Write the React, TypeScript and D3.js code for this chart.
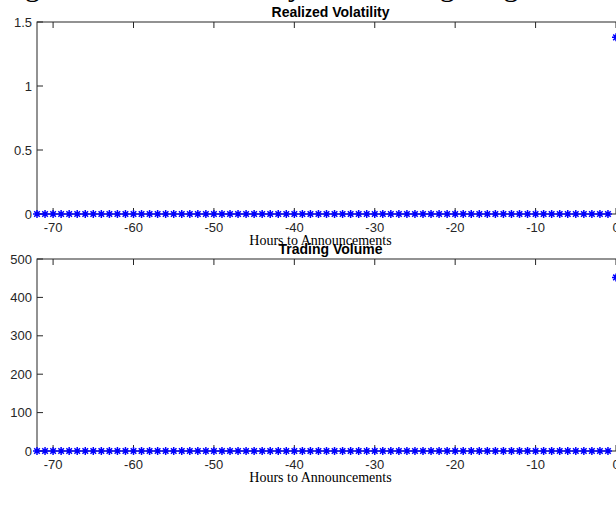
import React, { useEffect, useRef } from 'react';
import * as d3 from 'd3';

// hours relative to the announcement
const hours = [
  -72, -71, -70, -69, -68, -67, -66, -65, -64, -63, -62, -61, -60, -59, -58, -57, -56, -55,
  -54, -53, -52, -51, -50, -49, -48, -47, -46, -45, -44, -43, -42, -41, -40, -39, -38, -37,
  -36, -35, -34, -33, -32, -31, -30, -29, -28, -27, -26, -25, -24, -23, -22, -21, -20, -19,
  -18, -17, -16, -15, -14, -13, -12, -11, -10, -9, -8, -7, -6, -5, -4, -3, -2, -1, 0,
];

const volatility = [
  0, 0, 0, 0, 0, 0, 0, 0, 0, 0, 0, 0, 0, 0, 0, 0, 0, 0,
  0, 0, 0, 0, 0, 0, 0, 0, 0, 0, 0, 0, 0, 0, 0, 0, 0, 0,
  0, 0, 0, 0, 0, 0, 0, 0, 0, 0, 0, 0, 0, 0, 0, 0, 0, 0,
  0, 0, 0, 0, 0, 0, 0, 0, 0, 0, 0, 0, 0, 0, 0, 0, 0, 0, 1.38,
];

const volume = [
  0, 0, 0, 0, 0, 0, 0, 0, 0, 0, 0, 0, 0, 0, 0, 0, 0, 0,
  0, 0, 0, 0, 0, 0, 0, 0, 0, 0, 0, 0, 0, 0, 0, 0, 0, 0,
  0, 0, 0, 0, 0, 0, 0, 0, 0, 0, 0, 0, 0, 0, 0, 0, 0, 0,
  0, 0, 0, 0, 0, 0, 0, 0, 0, 0, 0, 0, 0, 0, 0, 0, 0, 0, 452,
];

const xTicks = [-70, -60, -50, -40, -30, -20, -10, 0];
const volTicks = [0, 0.5, 1, 1.5];
const volumeTicks = [0, 100, 200, 300, 400, 500];

const W = 616;
const H = 520;

const App = () => {
  const ref = useRef<SVGSVGElement>(null);

  useEffect(() => {
    const svg = d3.select(ref.current);
    svg.selectAll('*').remove();

    // figure caption, cut off by the top edge
    svg.append('text')
      .attr('x', 0)
      .attr('y', -4)
      .style('font-family', 'Liberation Serif')
      .style('font-size', '30px')
      .text('Figure 1: Stock Volatility and Trading Surge');

    const x = d3.scaleLinear().domain([-72, 1]).range([37, 37 + 73 * (579 / 72)]);

    const panel = (
      values: number[],
      yTicks: number[],
      yMax: number,
      top: number,
      bottom: number,
      title: string
    ) => {
      const y = d3.scaleLinear().domain([0, yMax]).range([bottom, top]);
      const g = svg.append('g');
      const axisColor = '#262626';
      const [x0, x1] = x.range();

      // box
      g.append('rect')
        .attr('x', x0).attr('y', top)
        .attr('width', x1 - x0).attr('height', bottom - top)
        .attr('fill', 'white')
        .attr('stroke', axisColor)
        .attr('stroke-width', 1);

      // x ticks, pointing inward at top and bottom
      xTicks.forEach(t => {
        g.append('line')
          .attr('x1', x(t)).attr('x2', x(t))
          .attr('y1', bottom).attr('y2', bottom - 6)
          .attr('stroke', axisColor);
        g.append('line')
          .attr('x1', x(t)).attr('x2', x(t))
          .attr('y1', top).attr('y2', top + 6)
          .attr('stroke', axisColor);
        g.append('text')
          .attr('x', x(t))
          .attr('y', bottom + 18)
          .attr('text-anchor', 'middle')
          .style('font-family', 'Liberation Sans')
          .style('font-size', '13px')
          .attr('fill', axisColor)
          .text(t);
      });

      // y ticks
      yTicks.forEach(t => {
        g.append('line')
          .attr('x1', x0).attr('x2', x0 + 6)
          .attr('y1', y(t)).attr('y2', y(t))
          .attr('stroke', axisColor);
        g.append('line')
          .attr('x1', x1).attr('x2', x1 - 6)
          .attr('y1', y(t)).attr('y2', y(t))
          .attr('stroke', axisColor);
        g.append('text')
          .attr('x', x0 - 5)
          .attr('y', y(t))
          .attr('dy', '0.35em')
          .attr('text-anchor', 'end')
          .style('font-family', 'Liberation Sans')
          .style('font-size', '13px')
          .attr('fill', axisColor)
          .text(t);
      });

      // title
      g.append('text')
        .attr('x', (x0 + x1) / 2)
        .attr('y', top - 5)
        .attr('text-anchor', 'middle')
        .style('font-family', 'Liberation Sans')
        .style('font-weight', 'bold')
        .style('font-size', '14px')
        .attr('fill', 'black')
        .text(title);

      // x label
      g.append('text')
        .attr('x', (x0 + x1) / 2 - 10)
        .attr('y', bottom + 31)
        .attr('text-anchor', 'middle')
        .style('font-family', 'Liberation Serif')
        .style('font-size', '14px')
        .attr('fill', 'black')
        .text('Hours to Announcements');

      // asterisk markers
      const s = 4;
      const d = s * 0.7;
      const star = `M0,${-s}V${s}M${-s},0H${s}M${-d},${-d}L${d},${d}M${-d},${d}L${d},${-d}`;
      g.selectAll('path.star')
        .data(values)
        .enter()
        .append('path')
        .attr('class', 'star')
        .attr('transform', (v, i) => `translate(${x(hours[i])},${y(v)})`)
        .attr('d', star)
        .attr('stroke', '#0000ff')
        .attr('stroke-width', 1.5)
        .attr('fill', 'none');
    };

    panel(volatility, volTicks, 1.5, 22, 214, 'Realized Volatility');
    panel(volume, volumeTicks, 500, 259, 451, 'Trading Volume');
  }, []);

  return (
    <div style={{ position: 'fixed', left: 0, top: 0, width: W, height: H, overflow: 'hidden', background: 'white' }}>
      <svg ref={ref} width={W} height={H} style={{ display: 'block', overflow: 'hidden' }} />
    </div>
  );
};

export default App;
